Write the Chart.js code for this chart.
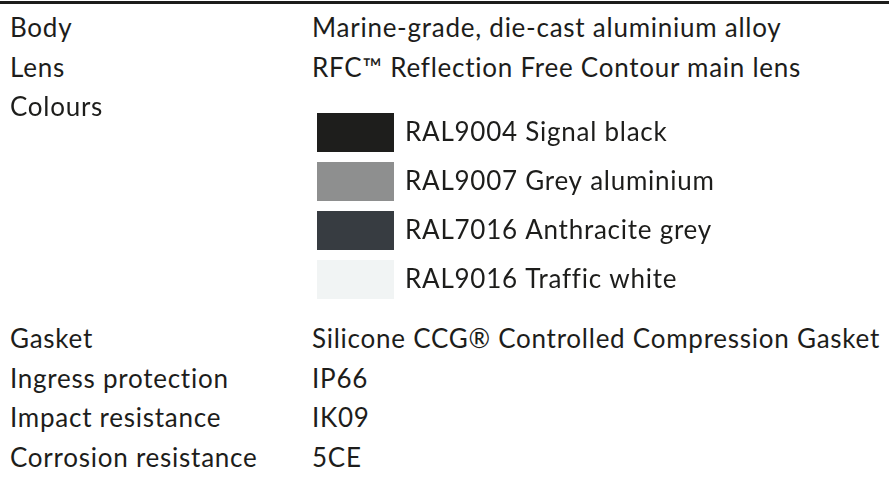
<!DOCTYPE html>
<html>
<head>
<meta charset="utf-8">
<script src="https://cdn.jsdelivr.net/npm/chart.js@4"></script>
<style>
  html, body { margin: 0; padding: 0; background: #fff; }
  #sheet { position: relative; width: 889px; height: 489px; overflow: hidden; font-family: Lato, sans-serif; font-size: 26px; letter-spacing: 0.75px; color: #1d1d1b; }
  #rule { position: absolute; left: 0; top: 1px; width: 889px; height: 3px; background: #1d1d1b; }
  .row { position: absolute; left: 0; width: 889px; height: 40px; line-height: 40px; white-space: nowrap; }
  .row .k { position: absolute; left: 10px; }
  .row .v { position: absolute; left: 312px; }
  #swatchChart { position: absolute; left: 317px; top: 108px; display: block; }
</style>
</head>
<body>
<div id="sheet">
  <div id="rule"></div>
  <canvas id="swatchChart" width="572" height="196"></canvas>
</div>
<script>
const specLabels = ['Body', 'Lens', 'Colours', 'Gasket', 'Ingress protection', 'Impact resistance', 'Corrosion resistance'];
const specValues = [
  'Marine-grade, die-cast aluminium alloy',
  'RFC™ Reflection Free Contour main lens',
  '',
  'Silicone CCG® Controlled Compression Gasket',
  'IP66',
  'IK09',
  '5CE'
];
const colourNames = ['RAL9004 Signal black', 'RAL9007 Grey aluminium', 'RAL7016 Anthracite grey', 'RAL9016 Traffic white'];
const colourFills = ['#1e1e1c', '#8e8f8f', '#373c41', '#f1f4f4'];
const swatchFull = [1, 1, 1, 1];

// rows above the swatch block, then the rows below it
const sheet = document.getElementById('sheet');
specLabels.forEach((label, i) => {
  const top = i < 3 ? 7 + 39.6 * i : 318 + 39.6 * (i - 3);
  const row = document.createElement('div');
  row.className = 'row';
  row.style.top = top + 'px';
  row.innerHTML = `<span class="k"></span><span class="v"></span>`;
  row.querySelector('.k').textContent = label;
  row.querySelector('.v').textContent = specValues[i];
  sheet.appendChild(row);
});

const swatchChart = new Chart(document.getElementById('swatchChart'), {
  type: 'bar',
  data: {
    labels: colourNames,
    datasets: [{
      data: swatchFull,
      backgroundColor: colourFills,
      borderWidth: 0,
      barPercentage: 0.796,
      categoryPercentage: 1
    }]
  },
  plugins: [{
    id: 'spacing',
    beforeDraw(chart) { chart.ctx.letterSpacing = '0.75px'; }
  }],
  options: {
    indexAxis: 'y',
    responsive: false,
    animation: false,
    events: [],
    layout: { padding: 0 },
    plugins: { legend: { display: false }, tooltip: { enabled: false } },
    scales: {
      x: { display: false, min: 0, max: 1 },
      y: {
        position: 'right',
        grid: { display: false, drawTicks: false },
        border: { display: false },
        afterFit(scale) {
          scale.width = 572 - 77;
          scale.paddingTop = 0;
          scale.paddingBottom = 0;
        },
        ticks: {
          padding: 11,
          color: '#1d1d1b',
          font: { family: 'Lato', size: 26 }
        }
      }
    }
  }
});
</script>
</body>
</html>
